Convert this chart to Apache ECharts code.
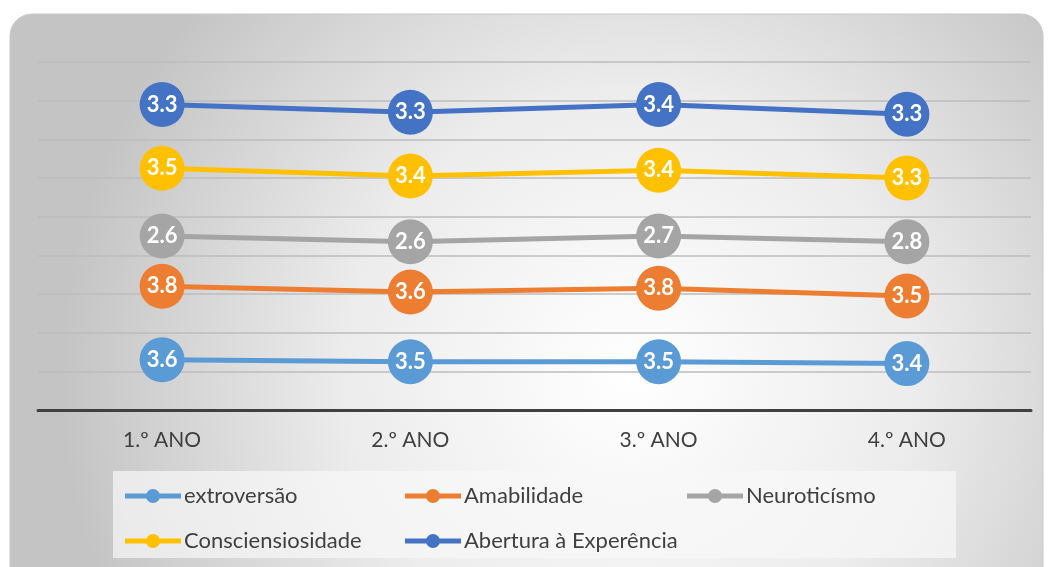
<!DOCTYPE html>
<html>
<head>
<meta charset="utf-8">
<script src="https://cdn.jsdelivr.net/npm/echarts@6/dist/echarts.min.js"></script>
<style>
  html, body { margin: 0; padding: 0; background: #fff; }
  #chart { width: 1048px; height: 567px; }
</style>
</head>
<body>
<div id="chart"></div>
<script>
// categorias (anos)
const anos = ['1.º ANO', '2.º ANO', '3.º ANO', '4.º ANO'];

// valores de cada dimensão (empilhados no gráfico)
const extroversao = [3.6, 3.5, 3.5, 3.4];
const amabilidade = [3.8, 3.6, 3.8, 3.5];
const neuroticismo = [2.6, 2.6, 2.7, 2.8];
const conscienciosidade = [3.5, 3.4, 3.4, 3.3];
const abertura = [3.3, 3.3, 3.4, 3.3];

const nomes = ['extroversão', 'Amabilidade', 'Neuroticísmo', 'Consciensiosidade', 'Abertura à Experência'];
const cores = ['#5B9BD5', '#ED7D31', '#A5A5A5', '#FFC000', '#4472C4'];
const valores = [extroversao, amabilidade, neuroticismo, conscienciosidade, abertura];

const chart = echarts.init(document.getElementById('chart'));

// posições das legendas (duas linhas, três colunas)
const legendPos = [[120, 480], [400, 480], [682, 480], [120, 525], [400, 525]];
// ícone: linha grossa com bolinha no meio
const iconeLinha = 'path://M0,5 L56,5 L56,10 L0,10 Z M21,7.5 A7,7 0 1,1 35,7.5 A7,7 0 1,1 21,7.5 Z';

chart.setOption({
  backgroundColor: '#ffffff',
  textStyle: { fontFamily: 'Lato, "Open Sans", sans-serif' },
  graphic: [
    {
      type: 'rect',
      z: -10,
      shape: { x: 10, y: 14, width: 1033, height: 600, r: 22 },
      style: {
        fill: {
          type: 'radial', x: 0.6, y: 0.6, r: 0.95,
          colorStops: [
            { offset: 0, color: '#ffffff' },
            { offset: 0.5, color: '#ececec' },
            { offset: 1, color: '#c4c4c4' }
          ]
        },
        stroke: '#c8c8c8',
        lineWidth: 1
      },
      silent: true
    },
    {
      type: 'rect',
      z: -9,
      shape: { x: 113, y: 471, width: 843, height: 87 },
      style: { fill: 'rgba(248,248,248,0.7)' },
      silent: true
    }
  ],
  legend: nomes.map((n, i) => ({
    data: [{ name: n, icon: iconeLinha }],
    left: legendPos[i][0],
    top: legendPos[i][1],
    itemWidth: 56,
    itemHeight: 15,
    itemGap: 4,
    textStyle: { fontSize: 22, color: '#404040', fontFamily: 'Lato, sans-serif', padding: [0, 0, 0, -2] }
  })),
  grid: { left: 38, right: 17, top: 62, bottom: 157 },
  xAxis: {
    type: 'category',
    data: anos,
    boundaryGap: true,
    axisLine: { lineStyle: { color: '#404040', width: 3 } },
    axisTick: { show: false },
    axisLabel: { fontSize: 21, color: '#404040', margin: 20, fontFamily: 'Lato, sans-serif' }
  },
  yAxis: {
    type: 'value',
    min: 1,
    max: 19,
    interval: 2,
    axisLabel: { show: false },
    axisLine: { show: false },
    axisTick: { show: false },
    splitLine: { lineStyle: { color: '#bcbcbc', width: 1.5 } }
  },
  series: nomes.map((n, i) => ({
    name: n,
    type: 'line',
    stack: 'total',
    data: valores[i],
    symbol: 'circle',
    symbolSize: 45,
    color: cores[i],
    lineStyle: { width: 5, color: cores[i] },
    itemStyle: { color: cores[i] },
    label: {
      show: true,
      position: 'inside',
      color: '#ffffff',
      fontWeight: 'bold',
      fontSize: 22,
      fontFamily: 'Lato, sans-serif',
      formatter: p => p.value.toFixed(1)
    },
    emphasis: { disabled: true },
    animation: false
  }))
});
</script>
</body>
</html>
